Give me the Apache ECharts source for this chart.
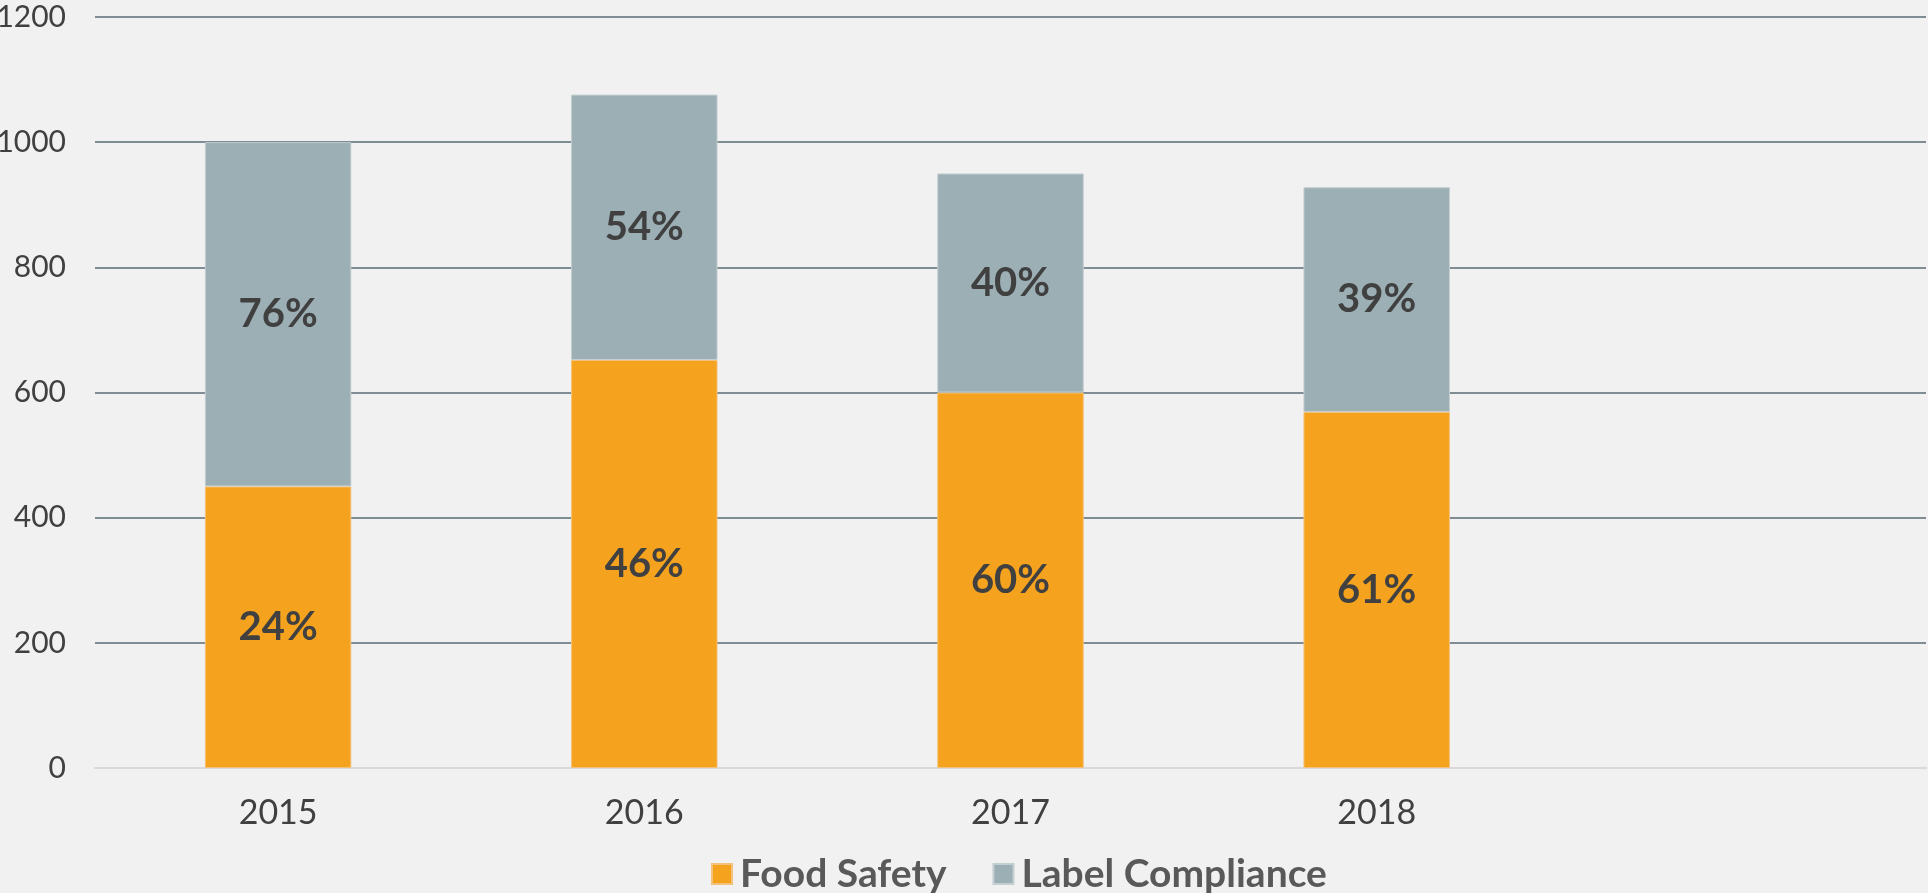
<!DOCTYPE html>
<html>
<head>
<meta charset="utf-8">
<script src="https://cdn.jsdelivr.net/npm/echarts@6/dist/echarts.min.js"></script>
<style>
  html, body { margin: 0; padding: 0; background: #f1f1f1; }
  #main { width: 1928px; height: 893px; }
</style>
</head>
<body>
<div id="main"></div>
<script>
const years = ['2015', '2016', '2017', '2018', ''];
const foodSafety = [450, 652, 600, 569];
const labelCompliance = [550, 424, 350, 359];
const foodSafetyPct = ['24%', '46%', '60%', '61%'];
const labelCompliancePct = ['76%', '54%', '40%', '39%'];

const myChart = echarts.init(document.querySelector('#main'));

const barLabel = (texts) => ({
  show: true,
  position: 'inside',
  color: '#404040',
  fontFamily: 'Lato',
  fontWeight: 'bold',
  fontSize: 40,
  formatter: (p) => texts[p.dataIndex]
});

const option = {
  backgroundColor: '#f1f1f1',
  animation: false,
  grid: {
    left: 95,
    right: 2,
    top: 17,
    bottom: 125,
    outerBoundsMode: 'none'
  },
  legend: {
    left: 706,
    top: 849,
    itemWidth: 20,
    itemHeight: 20,
    itemGap: 46,
    icon: 'rect',
    textStyle: {
      color: '#595959',
      fontFamily: 'Lato',
      fontWeight: 'bold',
      fontSize: 39,
      lineHeight: 40,
      padding: [0, 0, 0, 3]
    },
    data: ['Food Safety', 'Label Compliance']
  },
  xAxis: {
    type: 'category',
    data: years,
    axisLine: { lineStyle: { color: '#d9d9d9', width: 2 } },
    axisTick: { show: false },
    axisLabel: {
      color: '#404040',
      fontFamily: 'Lato',
      fontSize: 34,
      margin: 28
    }
  },
  yAxis: {
    type: 'value',
    min: 0,
    max: 1200,
    interval: 200,
    axisLine: { show: false },
    axisTick: { show: false },
    splitLine: { lineStyle: { color: '#7f8c93', width: 2 } },
    axisLabel: {
      color: '#404040',
      fontFamily: 'Lato',
      fontSize: 30,
      margin: 29,
      formatter: (v) => String(v)
    }
  },
  series: [
    {
      name: 'Food Safety',
      type: 'bar',
      stack: 'total',
      barWidth: '40%',
      data: foodSafety,
      itemStyle: { color: '#f5a31f', borderColor: '#f3c27a', borderWidth: 1 },
      label: barLabel(foodSafetyPct)
    },
    {
      name: 'Label Compliance',
      type: 'bar',
      stack: 'total',
      barWidth: '40%',
      data: labelCompliance,
      itemStyle: { color: '#9cafb4', borderColor: '#c3ced1', borderWidth: 1 },
      label: barLabel(labelCompliancePct)
    }
  ]
};

myChart.setOption(option);
</script>
</body>
</html>
